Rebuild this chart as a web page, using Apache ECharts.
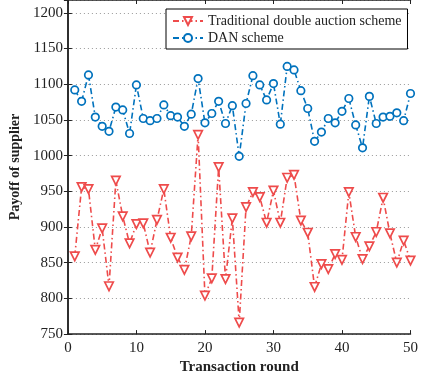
<!DOCTYPE html>
<html><head><meta charset="utf-8">
<script src="https://cdn.jsdelivr.net/npm/echarts@6/dist/echarts.min.js"></script>
<style>html,body{margin:0;padding:0;background:#fff}#c{width:421px;height:380px}</style>
</head><body><div id="c"></div>
<script>
const rounds = [];
for (let i = 1; i <= 50; i++) rounds.push(i);
const traditional = [859,956,953,868,898,817,965,915,877,904,905,864,910,953,885,857,840,887,1029,804,828,984,827,912,766,928,949,942,906,951,906,969,973,909,892,816,848,841,862,854,949,886,855,873,893,941,891,850,881,853];
const dan = [1092,1076,1113,1054,1041,1034,1068,1064,1031,1099,1052,1049,1052,1071,1056,1054,1041,1058,1108,1046,1059,1076,1045,1070,999,1073,1112,1099,1078,1101,1044,1125,1120,1091,1066,1020,1033,1052,1046,1062,1080,1043,1011,1083,1045,1054,1055,1060,1049,1087];
const seriesNames = ['Traditional double auction scheme', 'DAN scheme'];

const font = 'Liberation Serif';
const red = '#EE4B4B', blue = '#0072BD';
const chart = echarts.init(document.getElementById('c'), null, {renderer: 'canvas'});
const pair = arr => arr.map((v, i) => [rounds[i], v]);
const yTickFmt = v => (v % 50 === 0 ? String(v) : '');
chart.setOption({
  animation: false,
  backgroundColor: '#fff',
  grid: {left: 66, right: 7, top: 0, bottom: 43},
  legend: {
    orient: 'vertical', left: 166, top: 9, width: 244,
    backgroundColor: '#fff', borderColor: '#000', borderWidth: 1,
    padding: [5, 6, 4, 6], itemGap: 3, itemWidth: 30, itemHeight: 10,
    textStyle: {fontFamily: font, fontSize: 14, color: '#222'},
    data: seriesNames
  },
  xAxis: [{
    type: 'value', min: 0, max: 50, interval: 10,
    name: 'Transaction round', nameLocation: 'middle', nameGap: 27,
    nameTextStyle: {fontFamily: font, fontSize: 15, fontWeight: 'bold', color: '#222', verticalAlign: 'middle'},
    axisLine: {show: true, lineStyle: {color: '#222', width: 1.5}},
    axisTick: {show: true, inside: true, length: 4, lineStyle: {color: '#222'}},
    axisLabel: {fontFamily: font, fontSize: 15, color: '#222', margin: 6},
    splitLine: {show: false}
  }, {
    type: 'value', position: 'top', min: 0, max: 50, interval: 10,
    axisLine: {show: true, lineStyle: {color: '#222', width: 1.5}},
    axisTick: {show: true, inside: true, length: 4, lineStyle: {color: '#222'}},
    axisLabel: {show: false}, splitLine: {show: false}
  }],
  yAxis: [{
    type: 'value', min: 750, max: 1218, interval: 50,
    name: 'Payoff of supplier', nameLocation: 'middle', nameGap: 44,
    nameTextStyle: {fontFamily: font, fontSize: 14, fontWeight: 'bold', color: '#222'},
    axisLine: {show: true, lineStyle: {color: '#222', width: 1.5}},
    axisTick: {show: true, inside: true, length: 4, lineStyle: {color: '#222'}},
    axisLabel: {fontFamily: font, fontSize: 15, color: '#222', margin: 5, formatter: yTickFmt, showMaxLabel: false},
    splitLine: {show: true, lineStyle: {color: '#999', type: [1, 3], width: 1}}
  }, {
    type: 'value', position: 'right', min: 750, max: 1218, interval: 50,
    axisLine: {show: true, lineStyle: {color: '#222', width: 1.5}},
    axisTick: {show: true, inside: true, length: 4, lineStyle: {color: '#222'}},
    axisLabel: {show: false}, splitLine: {show: false}
  }],
  series: [{
    name: seriesNames[0], type: 'line', data: pair(traditional),
    symbol: 'triangle', symbolRotate: 180, symbolSize: 8.5,
    lineStyle: {color: red, width: 1.6, type: [6, 3, 1.5, 3]},
    itemStyle: {color: '#fff', borderColor: red, borderWidth: 1.7},
    color: red
  }, {
    name: seriesNames[1], type: 'line', data: pair(dan),
    symbol: 'circle', symbolSize: 7.5,
    lineStyle: {color: blue, width: 1.6, type: [6, 3, 1.5, 3]},
    itemStyle: {color: '#fff', borderColor: blue, borderWidth: 1.7},
    color: blue
  }]
});
</script></body></html>
